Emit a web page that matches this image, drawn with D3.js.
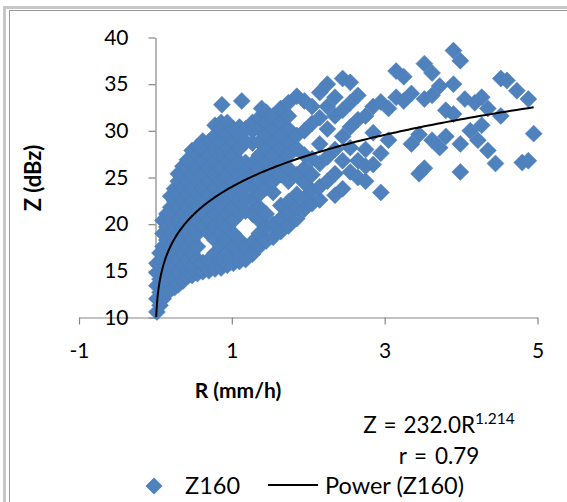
<!DOCTYPE html>
<html>
<head>
<meta charset="utf-8">
<script src="https://cdn.jsdelivr.net/npm/d3@7"></script>
<style>
  body { margin: 0; background: #ffffff; }
  svg { display: block; }
  text { font-family: Lato, "Noto Sans", sans-serif; fill: #000000; }
</style>
</head>
<body>
<svg id="chart"></svg>
<script>
let outerWidth = 567;
let outerHeight = 502;

// x = R (mm/h), y = Z (dBz)
let xTicks = [-1, 1, 3, 5];
let yTicks = [10, 15, 20, 25, 30, 35, 40];

// dense part of the cloud, read column by column
let denseR = [0.02, 0.06, 0.10, 0.15, 0.20, 0.25, 0.30, 0.36, 0.42, 0.48, 0.55, 0.62, 0.70, 0.78, 0.86, 0.94,
  1.02, 1.10, 1.18, 1.27, 1.36, 1.45, 1.54, 1.64, 1.74, 1.85, 1.95, 2.05, 2.15]
let denseZ = [
  [10.6, 12.0, 13.4, 14.8, 15.8],
  [11.3, 12.7, 14.1, 15.5, 16.9],
  [12.0, 13.4, 14.8, 16.2, 17.6, 19.0, 20.4],
  [12.7, 14.1, 15.5, 16.9, 18.3, 19.7, 21.1],
  [13.0, 14.8, 16.2, 17.6, 19.0, 20.4, 21.8, 23.0],
  [13.2, 14.1, 15.5, 16.9, 18.3, 19.7, 21.1, 22.5, 23.8],
  [13.5, 14.8, 16.2, 17.6, 19.0, 20.4, 21.8, 23.2, 24.6, 25.4],
  [13.9, 15.5, 16.9, 18.3, 19.7, 21.1, 22.5, 23.9, 25.3, 26.2],
  [14.4, 16.2, 17.6, 19.0, 20.4, 21.8, 23.2, 24.6, 26.0, 26.9],
  [14.5, 15.5, 16.9, 18.3, 19.7, 21.1, 22.5, 23.9, 25.3, 26.7, 27.9],
  [14.7, 16.2, 17.6, 19.0, 20.4, 21.8, 23.2, 24.6, 26.0, 27.4, 28.3],
  [14.9, 15.9, 19.7, 21.1, 22.5, 23.9, 25.3, 26.7, 28.1, 28.9],
  [15.0, 16.2, 19.0, 20.4, 21.8, 23.2, 24.6, 26.0, 27.4, 28.8],
  [15.2, 16.9, 18.3, 19.7, 21.1, 22.5, 23.9, 25.3, 26.7, 28.1, 29.5, 30.6],
  [15.3, 16.2, 17.6, 19.0, 20.4, 21.8, 23.2, 24.6, 26.0, 27.4, 28.8, 30.2, 30.9],
  [15.6, 16.9, 18.3, 19.7, 21.1, 22.5, 23.9, 25.3, 26.7, 28.1, 29.5, 30.9],
  [15.8, 17.6, 19.0, 20.4, 21.8, 23.2, 24.6, 26.0, 27.4, 28.8, 30.2],
  [16.0, 16.9, 18.3, 21.1, 22.5, 23.9, 25.3, 26.7, 28.1, 29.5, 30.4],
  [16.2, 17.6, 21.4, 22.8, 24.2, 25.6, 26.6, 28.8, 30.2],
  [16.8, 18.1, 21.1, 22.5, 23.9, 25.3, 26.5, 28.7, 30.0, 30.9],
  [17.6, 19.0, 20.4, 21.8, 23.2, 24.6, 26.0, 27.4, 28.8, 30.2, 31.4],
  [18.2, 19.7, 21.1, 23.9, 25.3, 26.7, 28.1, 29.5, 30.9, 32.0],
  [18.6, 20.0, 23.4, 24.6, 26.0, 27.4, 28.8, 30.2, 31.6],
  [19.2, 20.6, 22.0, 25.3, 26.7, 28.1, 29.5, 30.9, 32.4],
  [19.8, 21.2, 22.4, 24.6, 26.0, 27.4, 28.8, 30.2, 31.6, 33.0],
  [20.6, 21.8, 23.2, 25.3, 28.1, 29.5, 33.7],
  [21.6, 22.8, 24.4, 26.0, 27.4, 30.0, 33.2],
  [22.2, 23.6, 25.3, 27.0, 30.8, 32.6],
  [22.6, 24.0, 26.5, 28.6, 31.4, 34.1]
]

// scattered points, mostly right of R = 2
let sparseR = [0.58, 0.87, 1.13, 1.39,
  2.25, 2.25, 2.25, 2.25, 2.25, 2.35, 2.35, 2.35, 2.35, 2.35, 2.45, 2.45, 2.45, 2.45, 2.45,
  2.55, 2.55, 2.55, 2.55, 2.55, 2.65, 2.65, 2.65, 2.65, 2.75, 2.75, 2.75, 2.75, 2.85, 2.85, 2.85,
  2.95, 2.95, 2.95, 3.05, 3.05, 3.15, 3.15, 3.25, 3.25, 3.35, 3.35, 3.45, 3.45, 3.52, 3.52, 3.52,
  3.62, 3.62, 3.62, 3.72, 3.72, 3.80, 3.80, 3.90, 3.90, 3.90, 3.99, 3.99, 3.99, 4.05, 4.12, 4.18,
  4.22, 4.27, 4.27, 4.35, 4.35, 4.45, 4.52, 4.52, 4.60, 4.73, 4.80, 4.88, 4.88, 4.95]
let sparseZ = [28.3, 32.8, 33.2, 32.4,
  24.6, 27.2, 30.2, 32.6, 35.0, 23.1, 25.4, 28.0, 31.6, 33.6, 23.8, 26.8, 29.4, 32.2, 35.6,
  25.6, 28.2, 30.4, 33.0, 35.2, 25.0, 26.8, 31.2, 33.8, 24.6, 26.2, 28.0, 31.6, 26.4, 29.8, 32.6,
  23.4, 27.6, 33.1, 29.0, 32.4, 33.6, 36.4, 35.8, 33.2, 28.6, 34.0, 25.4, 29.6, 26.0, 33.4, 37.2,
  29.0, 33.8, 36.2, 28.2, 34.8, 29.4, 32.2, 31.8, 35.0, 38.6, 25.6, 28.6, 37.5, 33.4, 30.0, 33.0,
  29.0, 30.6, 33.6, 27.9, 32.4, 26.5, 31.6, 35.6, 35.4, 34.3, 26.6, 33.4, 26.8, 29.7]

// power trendline fitted by the spreadsheet (Z = a * R^b), drawn over the data range
let trendA = 24.0;
let trendB = 0.19;
let trendRange = [0.01, 4.95];

let svg = d3.select("#chart")
  .attr("width", outerWidth)
  .attr("height", outerHeight);

svg.append("rect")
  .attr("width", outerWidth)
  .attr("height", outerHeight)
  .attr("fill", "#ffffff");

// frame of the chart (cropped on the right and at the bottom)
svg.append("rect")
  .attr("x", 4.5).attr("y", 7.5)
  .attr("width", 600).attr("height", 600)
  .attr("fill", "none")
  .attr("stroke", "#c8c8c8")
  .attr("stroke-width", 3);
svg.append("rect")
  .attr("x", 9.5).attr("y", 10.5)
  .attr("width", 600).attr("height", 600)
  .attr("fill", "none")
  .attr("stroke", "#9a9a9a")
  .attr("stroke-width", 1);

let xScale = d3.scaleLinear().domain([-1, 5]).range([79, 537.5]);
let yScale = d3.scaleLinear().domain([10, 40]).range([317.5, 37.5]);

let points = []
denseR.forEach((r, i) => denseZ[i].forEach(z => points.push({ R: r, Z: z })))
sparseR.forEach((r, i) => points.push({ R: r, Z: sparseZ[i] }))

// axes
let xAxis = d3.axisBottom(xScale).tickValues(xTicks).tickFormat(d => String(d))
  .tickSize(7).tickSizeOuter(0).tickPadding(19)
let yAxis = d3.axisLeft(yScale).tickValues(yTicks).tickFormat(d => String(d))
  .tickSize(7).tickSizeOuter(0).tickPadding(20)

let gx = svg.append("g")
  .attr("transform", "translate(0," + yScale(10) + ")")
  .call(xAxis)
let gy = svg.append("g")
  .attr("transform", "translate(" + Math.round(xScale(0)) + ".5,0)")
  .call(yAxis)

svg.selectAll(".domain, .tick line")
  .attr("stroke", "#868686")
  .attr("stroke-width", 1.2)
svg.selectAll(".tick text")
  .style("font-family", "Lato, 'Noto Sans', sans-serif")
  .style("font-size", "21px")
  .attr("fill", "#000000")

// scatter markers
svg.append("g")
  .selectAll("path")
  .data(points)
  .enter()
  .append("path")
  .attr("d", d3.symbol().type(d3.symbolSquare).size(144))
  .attr("transform", d => "translate(" + xScale(d.R) + "," + yScale(d.Z) + ") rotate(45)")
  .attr("fill", "#4F81BD")
  .attr("stroke", "#4A7EBB")
  .attr("stroke-width", 0.5)

// trendline
svg.append("clipPath")
  .attr("id", "plot-clip")
  .append("rect")
  .attr("x", xScale(-1)).attr("y", yScale(40))
  .attr("width", xScale(5) - xScale(-1))
  .attr("height", yScale(10) - yScale(40))

let trendPts = d3.range(0, 401).map(i => {
  let r = trendRange[0] * Math.pow(trendRange[1] / trendRange[0], i / 400)
  return [xScale(r), yScale(trendA * Math.pow(r, trendB))]
})
svg.append("path")
  .attr("d", d3.line()(trendPts))
  .attr("clip-path", "url(#plot-clip)")
  .attr("fill", "none")
  .attr("stroke", "#000000")
  .attr("stroke-width", 2)

// axis titles
svg.append("text")
  .attr("x", 238)
  .attr("y", 398)
  .attr("text-anchor", "middle")
  .style("font-size", "21px")
  .style("font-weight", "bold")
  .text("R (mm/h)")

svg.append("text")
  .attr("transform", "translate(41,178) rotate(-90)")
  .attr("text-anchor", "middle")
  .style("font-size", "22px")
  .style("font-weight", "bold")
  .text("Z (dBz)")

// trendline label
let eq = svg.append("text")
  .attr("x", 439)
  .attr("y", 433)
  .attr("text-anchor", "middle")
  .style("font-size", "22.5px")
  .style("word-spacing", "1px")
eq.append("tspan").text("Z = 232.0R")
eq.append("tspan").attr("dy", -9).style("font-size", "15.5px").text("1.214")

svg.append("text")
  .attr("x", 439)
  .attr("y", 464)
  .attr("text-anchor", "middle")
  .style("font-size", "22.5px")
  .style("word-spacing", "2px")
  .text("r = 0.79")

// legend
svg.append("path")
  .attr("d", d3.symbol().type(d3.symbolSquare).size(144))
  .attr("transform", "translate(154,486) rotate(45)")
  .attr("fill", "#4F81BD")

svg.append("text")
  .attr("x", 185)
  .attr("y", 494)
  .style("font-size", "23.5px")
  .text("Z160")

svg.append("line")
  .attr("x1", 268).attr("x2", 318)
  .attr("y1", 485).attr("y2", 485)
  .attr("stroke", "#000000")
  .attr("stroke-width", 2)

svg.append("text")
  .attr("x", 325)
  .attr("y", 494)
  .style("font-size", "23.5px")
  .text("Power (Z160)")
</script>
</body>
</html>
